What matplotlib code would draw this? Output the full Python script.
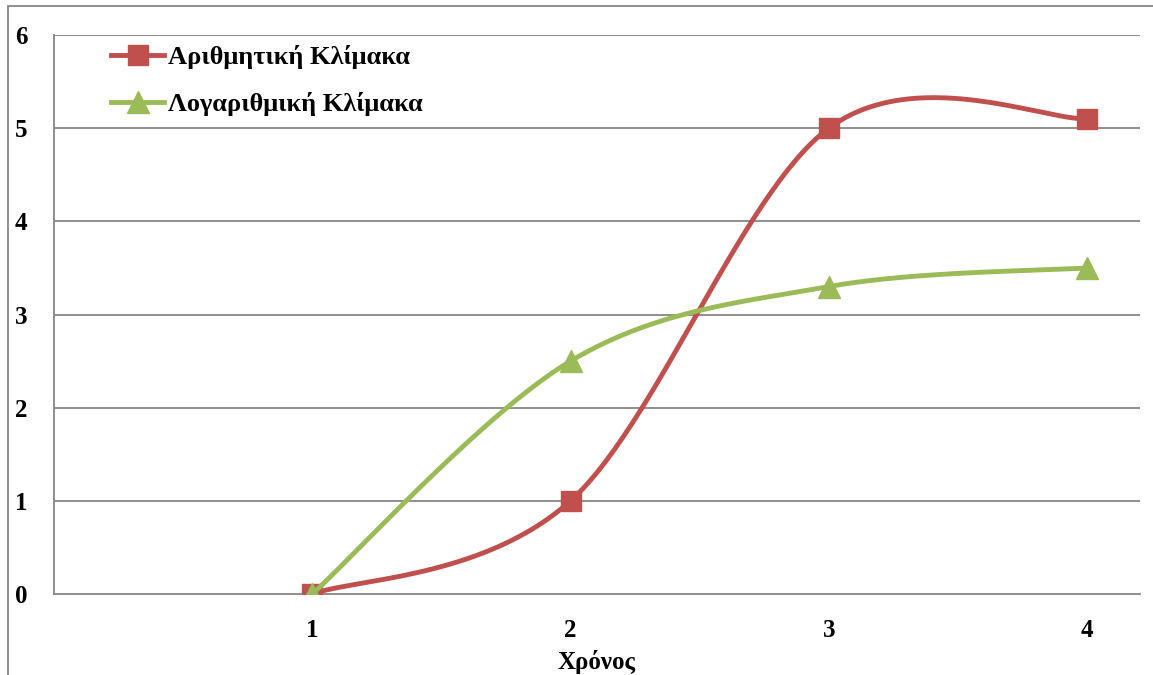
import numpy as np
import matplotlib
matplotlib.use("Agg")
import matplotlib.pyplot as plt
from matplotlib.patches import Rectangle

# ── data ──────────────────────────────────────────────────────────────────
years = [1, 2, 3, 4]
arith = [0, 1, 5, 5.1]
logar = [0, 2.5, 3.3, 3.5]
y_ticks = [0, 1, 2, 3, 4, 5, 6]

label_arith = "Αριθμητική Κλίμακα"
label_logar = "Λογαριθμική Κλίμακα"
x_title = "Χρόνος"

RED = "#C0504D"
GREEN = "#9BBB59"
GRID = "#868686"


def smooth(xs, ys, n=60):
    """Catmull-Rom style bezier smoothing through every point."""
    xs = np.asarray(xs, float)
    ys = np.asarray(ys, float)
    pts = np.column_stack([xs, ys])
    out = []
    for i in range(len(pts) - 1):
        p0 = pts[i - 1] if i > 0 else pts[i]
        p1 = pts[i]
        p2 = pts[i + 1]
        p3 = pts[i + 2] if i + 2 < len(pts) else pts[i + 1]
        c1 = p1 + (p2 - p0) / 6.0
        c2 = p2 - (p3 - p1) / 6.0
        t = np.linspace(0, 1, n)[:, None]
        seg = ((1 - t) ** 3) * p1 + 3 * ((1 - t) ** 2) * t * c1 \
            + 3 * (1 - t) * t ** 2 * c2 + t ** 3 * p2
        out.append(seg if i == 0 else seg[1:])
    seg = np.vstack(out)
    return seg[:, 0], seg[:, 1]


plt.rcParams["font.family"] = ["Liberation Serif", "DejaVu Serif"]
plt.rcParams["font.weight"] = "bold"

fig = plt.figure(figsize=(11.53, 6.75), dpi=100)
ax = fig.add_axes([54 / 1153, 81 / 675, (1140 - 54) / 1153, (594 - 35) / 675])

# outer chart frame
fig.patches.append(Rectangle((8 / 1153, -0.05), 1.2, 1.05 - 6 / 675,
                             transform=fig.transFigure, fill=False,
                             edgecolor=GRID, linewidth=1.3))

for yv in y_ticks[1:]:
    ax.axhline(yv, color=GRID, linewidth=1.3, zorder=1)

sx, sy = smooth(years, arith)
ax.plot(sx, sy, color=RED, linewidth=3.5, zorder=3, solid_capstyle="round")
ax.plot(years, arith, linestyle="none", marker="s", markersize=14,
        color=RED, zorder=4)
gx, gy = smooth(years, logar)
ax.plot(gx, gy, color=GREEN, linewidth=3.5, zorder=5, solid_capstyle="round")
ax.plot(years, logar, linestyle="none", marker="^", markersize=16,
        color=GREEN, zorder=6)

# legend proxies
ax.plot([], [], color=RED, linewidth=3.5, marker="s", markersize=14, label=label_arith)
ax.plot([], [], color=GREEN, linewidth=3.5, marker="^", markersize=16, label=label_logar)
ax.legend(loc="upper left", bbox_to_anchor=(0.031, 1.024), frameon=False,
          prop={"family": "Liberation Serif", "weight": "bold", "size": 19},
          handlelength=2.0, handletextpad=0.15, labelspacing=0.87)

ax.set_xlim(0, 4.205)
ax.set_ylim(0, 6)
ax.set_xticks(years)
ax.set_yticks(y_ticks)
ax.tick_params(length=0, labelsize=18)
ax.tick_params(axis="y", pad=19)
ax.tick_params(axis="x", pad=18)
ax.set_xlabel(x_title, fontsize=18, fontweight="bold", labelpad=6)

for side in ("top", "right"):
    ax.spines[side].set_visible(False)
for side in ("left", "bottom"):
    ax.spines[side].set_color(GRID)
    ax.spines[side].set_linewidth(1.3)

fig.savefig("out.png", dpi=100)
